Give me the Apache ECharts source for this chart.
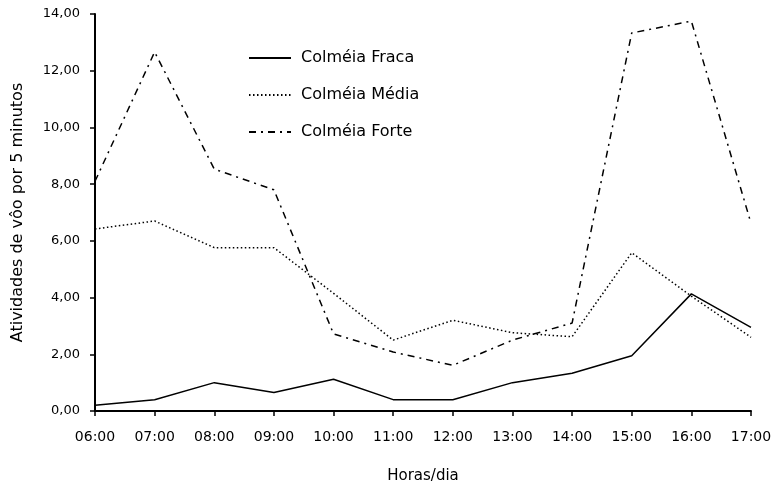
<!DOCTYPE html>
<html><head><meta charset="utf-8">
<script src="https://cdn.jsdelivr.net/npm/echarts@6/dist/echarts.min.js"></script>
<style>html,body{margin:0;padding:0;background:#fff}#c{width:772px;height:486px}</style>
</head><body><div id="c"></div>
<script>
const categories = ['06:00','07:00','08:00','09:00','10:00','11:00','12:00','13:00','14:00','15:00','16:00','17:00'];
const fraca = [0.2, 0.4, 1.0, 0.65, 1.12, 0.4, 0.4, 1.0, 1.33, 1.95, 4.13, 2.95];
const media = [6.42, 6.7, 5.76, 5.76, 4.15, 2.5, 3.2, 2.76, 2.62, 5.58, 4.05, 2.6];
const forte = [8.1, 12.66, 8.53, 7.8, 2.72, 2.08, 1.61, 2.5, 3.1, 13.33, 13.75, 6.62];
const seriesNames = ['Colméia Fraca', 'Colméia Média', 'Colméia Forte'];
const yTicks = [0, 2, 4, 6, 8, 10, 12, 14];

const chart = echarts.init(document.getElementById('c'));
const font = 'DejaVu Sans, sans-serif';
chart.setOption({
  animation: false,
  backgroundColor: '#fff',
  grid: { left: 95, right: 21, top: 14, bottom: 75, outerBoundsMode: 'none', containLabel: false },
  legend: {
    orient: 'vertical', left: 243, top: 45, itemWidth: 42, itemHeight: 18, itemGap: 21,
    itemStyle: { opacity: 0 },
    textStyle: { fontFamily: font, fontSize: 16, color: '#000', padding: [0, 0, 0, 5] },
    data: seriesNames
  },
  xAxis: {
    type: 'category', data: categories, boundaryGap: false,
    name: 'Horas/dia', nameLocation: 'middle', nameGap: 58,
    nameTextStyle: { fontFamily: font, fontSize: 15, color: '#000' },
    axisLine: { lineStyle: { color: '#000', width: 2 } },
    axisTick: { alignWithLabel: true, length: 5, lineStyle: { color: '#000', width: 1.5 } },
    axisLabel: { fontFamily: font, fontSize: 14, color: '#000', margin: 19 },
    splitLine: { show: false }
  },
  yAxis: {
    type: 'value', min: 0, max: 14, interval: 2,
    name: 'Atividades de vôo por 5 minutos', nameLocation: 'middle', nameGap: 69,
    nameTextStyle: { fontFamily: font, fontSize: 16, color: '#000' },
    axisLine: { show: true, lineStyle: { color: '#000', width: 2 } },
    axisTick: { show: true, length: 5, lineStyle: { color: '#000', width: 1.5 } },
    axisLabel: { fontFamily: font, fontSize: 13, color: '#000', margin: 15,
      formatter: v => yTicks.includes(v) ? v.toFixed(2).replace('.', ',') : '' },
    splitLine: { show: false }
  },
  series: [
    { name: seriesNames[0], type: 'line', data: fraca, symbol: 'none', color: '#000',
      lineStyle: { color: '#000', width: 1.5, type: 'solid' } },
    { name: seriesNames[1], type: 'line', data: media, symbol: 'none', color: '#000',
      lineStyle: { color: '#000', width: 1.5, type: [1.5, 2.5] } },
    { name: seriesNames[2], type: 'line', data: forte, symbol: 'none', color: '#000',
      lineStyle: { color: '#000', width: 1.5, type: [7, 5, 2, 5] } }
  ]
});
</script></body></html>
